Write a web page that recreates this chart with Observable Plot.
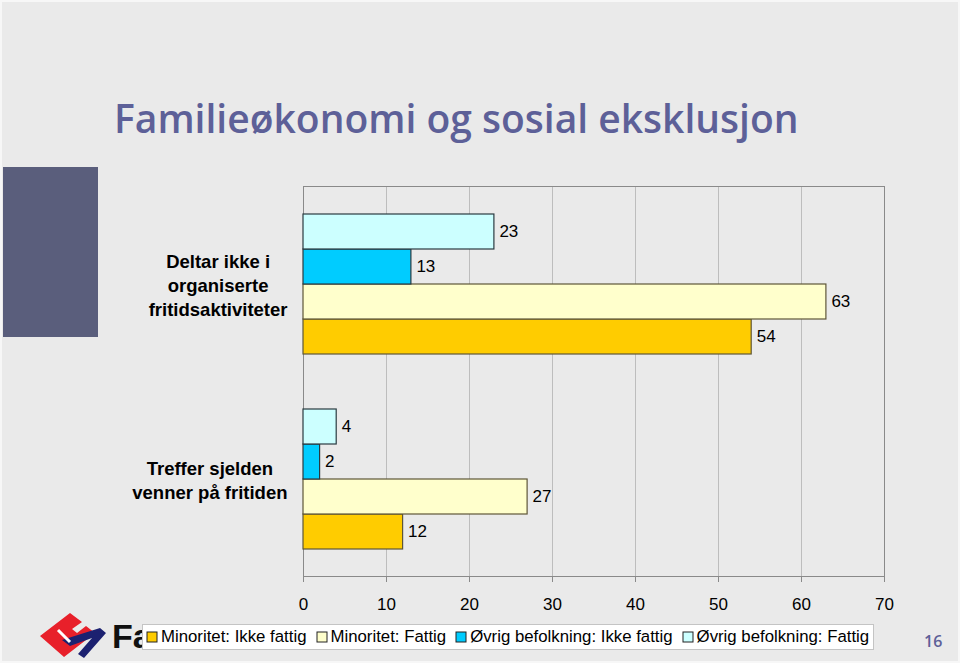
<!DOCTYPE html>
<html><head><meta charset="utf-8">
<script src="https://cdn.jsdelivr.net/npm/d3@7"></script>
<script src="https://cdn.jsdelivr.net/npm/@observablehq/plot@0.6"></script>
<style>
html,body{margin:0;padding:0;}
body{width:960px;height:663px;overflow:hidden;background:#f7f7f7;position:relative;font-family:"Liberation Sans",Arial,sans-serif;}
#slide{position:absolute;left:2px;top:2px;width:956px;height:659px;background:#eaeaea;}
#title{position:absolute;left:114px;top:91px;font-family:"Open Sans",sans-serif;font-weight:600;font-size:39px;color:#5d6098;white-space:nowrap;letter-spacing:0px;}
#sidebar{position:absolute;left:3px;top:167px;width:95px;height:170px;background:#5a5e7c;}
#chart{position:absolute;left:0;top:160px;}
#logo{position:absolute;left:0;top:600px;}
#legend{position:absolute;left:142px;top:624px;width:732px;height:26px;background:#fff;border:1px solid #c4c4c4;box-sizing:border-box;padding:0 0 0 4px;display:flex;align-items:center;}
#legend .lg-swatches{margin:0 !important;min-height:0 !important;font-size:16.8px !important;font-family:"Liberation Sans",Arial,sans-serif !important;color:#000;flex-wrap:nowrap !important;white-space:nowrap;}
#legend .lg-swatch{margin-right:10px !important;}
#legend .lg-swatch > svg{margin-right:4px !important;overflow:visible;}
#legend .lg-swatch > svg rect{stroke:#222;stroke-width:1px;}
#pagenum{position:absolute;left:924px;top:630px;font-family:"Open Sans",sans-serif;font-weight:600;font-size:16px;color:#5d6098;}
</style>
</head><body>
<div id="slide"></div>
<div id="sidebar"></div>
<div id="title">Familieøkonomi og sosial eksklusjon</div>
<svg id="logo" width="160" height="63" viewBox="0 0 160 63">
  <polygon points="40,36 70,13 82,22 72,29 77,33 86,26 95,33 64,57" fill="#e8202a"/>
  <polygon points="62,40 100,28 106,33 84,58 78,54 92,38 70,46" fill="#1c2170"/>
  <line x1="58" y1="30" x2="70" y2="42" stroke="#fff" stroke-width="3"/>
  <text x="112" y="48" font-family="Liberation Sans, Arial" font-weight="bold" font-size="34" fill="#111">Fa</text>
</svg>
<div id="chart"></div>
<div id="legend"></div>
<div id="pagenum">16</div>
<script>
// ---- data ----
const cats = ["Deltar ikke i organiserte fritidsaktiviteter", "Treffer sjelden venner på fritiden"];
const catLines = [["Deltar ikke i", "organiserte", "fritidsaktiviteter"], ["Treffer sjelden", "venner på fritiden"]];
const series = ["Minoritet: Ikke fattig", "Minoritet: Fattig", "Øvrig befolkning: Ikke fattig", "Øvrig befolkning: Fattig"];
const minoritetIkkeFattig = [54, 12];
const minoritetFattig = [63, 27];
const ovrigIkkeFattig = [13, 2];
const ovrigFattig = [23, 4];
const xTicks = [0, 10, 20, 30, 40, 50, 60, 70];
const seriesColors = ["#FFCC00", "#FFFFCC", "#00CCFF", "#CCFFFF"];

const seriesValues = [minoritetIkkeFattig, minoritetFattig, ovrigIkkeFattig, ovrigFattig];
const rows = cats.flatMap((c, i) => series.map((s, j) => ({cat: c, series: s, value: seriesValues[j][i]})));
const yellowRows = rows.filter(d => d.series.startsWith("Minoritet"));
const blueRows = rows.filter(d => !d.series.startsWith("Minoritet"));

const ctx = document.createElement("canvas").getContext("2d");
const labelSize = 18.5;
ctx.font = `bold ${labelSize}px 'Liberation Sans', Arial, sans-serif`;
const widthOf = lines => Math.max(...lines.map(l => ctx.measureText(l).width));

function build(useSuper) {
  const frameMarks = useSuper
    ? [Plot.frame({facet: "super", stroke: "#8a8a8a"})]
    : [Plot.ruleX([0, 70], {stroke: "#8a8a8a"})];
  return Plot.plot({
    width: 960, height: 460,
    marginLeft: 303, marginRight: 76, marginTop: 26, marginBottom: 44,
    style: {background: "transparent", fontFamily: "'Liberation Sans', Arial, sans-serif", fontSize: "17px", color: "#000", overflow: "visible"},
    x: {domain: [0, 70], axis: null},
    y: {domain: series.slice().reverse(), paddingInner: 0, paddingOuter: 0.76, axis: null},
    fy: {domain: cats, padding: 0, axis: null},
    color: {domain: series, range: seriesColors},
    marks: [
      Plot.gridX(xTicks, {stroke: "#bdbdbd", strokeOpacity: 1}),
      ...frameMarks,
      Plot.axisX(xTicks, {tickSize: 6, tickPadding: 15, stroke: "#8a8a8a", fontSize: 17, label: null, tickFormat: d => String(d)}),
      Plot.barX(yellowRows, {x: "value", y: "series", fy: "cat", fill: "series", stroke: "#5e5638", strokeWidth: 1.2}),
      Plot.barX(blueRows, {x: "value", y: "series", fy: "cat", fill: "series", stroke: "#2a3a40", strokeWidth: 1.2}),
      Plot.text(rows, {x: "value", y: "series", fy: "cat", text: d => String(d.value), textAnchor: "start", dx: 5, fontSize: 17, fill: "#000"}),
      ...catLines.map((lines, i) => Plot.text([{cat: cats[i]}], {
        fy: "cat", frameAnchor: "left", text: () => lines.join("\n"),
        textAnchor: "middle", dx: -(16 + widthOf(lines) / 2),
        fontWeight: "bold", fontSize: labelSize, lineHeight: 1.3, fill: "#000"
      }))
    ]
  });
}
let chart;
try { chart = build(true); } catch (e) { chart = build(false); }
document.getElementById("chart").appendChild(chart);
const leg = chart.legend("color", {swatchSize: 10, className: "lg"});
document.getElementById("legend").appendChild(leg);
</script>
</body></html>
